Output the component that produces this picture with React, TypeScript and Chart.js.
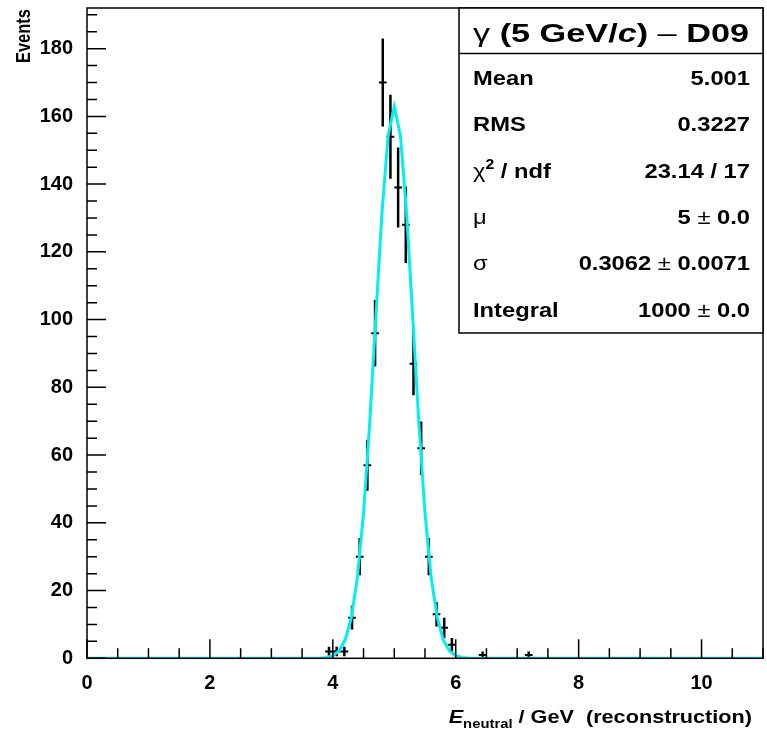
import React, { useEffect, useRef } from "react";
import { Chart, registerables } from "chart.js";

Chart.register(...registerables);

// ---- data ----
const binCenters = [3.9375, 4.0625, 4.1875, 4.3125, 4.4375, 4.5625, 4.6875, 4.8125, 4.9375, 5.0625, 5.1875, 5.3125, 5.4375, 5.5625, 5.6875, 5.8125, 5.9375, 6.4375, 7.1875];
const binCounts = [2, 2, 2, 12, 30, 57, 96, 170, 154, 139, 128, 87, 62, 30, 13, 9, 4, 1, 1];
const binErrors = [1.4, 1.4, 1.4, 3.5, 5.5, 7.5, 9.8, 13.0, 12.4, 11.8, 11.3, 9.3, 7.9, 5.5, 3.6, 3.0, 2.0, 1.0, 1.0];
const BIN_WIDTH = 0.125;

const fitX = [0, 3.6, 3.7, 3.8, 3.9, 4.0, 4.1, 4.2, 4.3, 4.4, 4.5, 4.6, 4.7, 4.8, 4.9, 5.0, 5.1, 5.2, 5.3, 5.4, 5.5, 5.6, 5.7, 5.8, 5.9, 6.0, 6.1, 6.2, 6.3, 6.4, 11];
const fitY = [0, 0.0, 0.02, 0.08, 0.26, 0.79, 2.17, 5.37, 11.9, 23.9, 42.9, 69.4, 100.8, 131.6, 154.4, 162.9, 154.4, 131.6, 100.8, 69.4, 42.9, 23.9, 11.9, 5.37, 2.17, 0.79, 0.26, 0.08, 0.02, 0.0, 0];

const X_MIN = 0;
const X_MAX = 11;
const Y_MIN = 0;
const Y_MAX = 192;
const X_LABEL_STEP = 2;
const X_MINOR_STEP = 0.5;
const Y_LABEL_STEP = 20;
const Y_MINOR_STEP = 5;

const statsTitle = ["γ", " (5 GeV/", "c", ") ", "–", " D09"];
const statsLabels = ["Mean", "RMS", "χ|2| / ndf", "μ", "σ", "Integral"];
const statsValues = ["5.001", "0.3227", "23.14 / 17", "5 ± 0.0", "0.3062 ± 0.0071", "1000 ± 0.0"];
const yTitle = "Events";
const xTitleMain = "E";
const xTitleSub = "neutral";
const xTitleRest = " / GeV  (reconstruction)";

// ---- styling ----
const FONT = '"Liberation Sans", Arial, Helvetica, sans-serif';
const CYAN = "#00F0F0";

type Seg = { t: string; f: string; dy?: number };

function segsWidth(ctx: CanvasRenderingContext2D, segs: Seg[]) {
  let w = 0;
  for (const s of segs) {
    ctx.font = s.f;
    w += ctx.measureText(s.t).width;
  }
  return w;
}

function drawSegs(
  ctx: CanvasRenderingContext2D,
  segs: Seg[],
  x: number,
  y: number,
  align: "left" | "right" | "center",
  stretch: number
) {
  ctx.save();
  ctx.translate(x, y);
  ctx.scale(stretch, 1);
  ctx.textAlign = "left";
  ctx.textBaseline = "alphabetic";
  const w = segsWidth(ctx, segs);
  let cx = align === "left" ? 0 : align === "right" ? -w : -w / 2;
  for (const s of segs) {
    ctx.font = s.f;
    ctx.fillText(s.t, cx, s.dy || 0);
    cx += ctx.measureText(s.t).width;
  }
  ctx.restore();
}

function valueSegs(v: string, size: number): Seg[] {
  const bold = `bold ${size}px ${FONT}`;
  const reg = `${size}px ${FONT}`;
  if (v.includes("±")) {
    const [a, b] = v.split("±");
    return [
      { t: a.trim(), f: bold },
      { t: " ± ", f: reg },
      { t: b.trim(), f: bold },
    ];
  }
  return [{ t: v, f: bold }];
}

function labelSegs(l: string, size: number): Seg[] {
  const bold = `bold ${size}px ${FONT}`;
  const reg = `${size}px ${FONT}`;
  if (l.includes("|")) {
    const [a, sup, b] = l.split("|");
    return [
      { t: a, f: reg },
      { t: sup, f: `bold ${Math.round(size * 0.68)}px ${FONT}`, dy: -size * 0.42 },
      { t: b, f: bold },
    ];
  }
  if (l.length === 1) return [{ t: l, f: reg }];
  return [{ t: l, f: bold }];
}

const rootPlugin = {
  id: "rootStyle",
  beforeDatasetsDraw(chart: any) {
    const { ctx, chartArea: a } = chart;
    const xs = chart.scales.x;
    const ys = chart.scales.y;
    ctx.save();
    ctx.beginPath();
    ctx.rect(a.left, a.top, a.right - a.left, a.bottom - a.top);
    ctx.clip();
    ctx.strokeStyle = "#000";
    ctx.lineWidth = 2.5;
    binCenters.forEach((c, i) => {
      const px = xs.getPixelForValue(c);
      ctx.beginPath();
      ctx.moveTo(px, ys.getPixelForValue(binCounts[i] - binErrors[i]));
      ctx.lineTo(px, ys.getPixelForValue(binCounts[i] + binErrors[i]));
      ctx.stroke();
    });
    ctx.restore();
  },
  afterDatasetsDraw(chart: any) {
    const { ctx, chartArea: a } = chart;
    const xs = chart.scales.x;
    const ys = chart.scales.y;
    ctx.save();
    ctx.strokeStyle = "#000";
    ctx.fillStyle = "#000";

    // ticks (inside the frame)
    ctx.lineWidth = 1.5;
    ctx.beginPath();
    for (let v = X_MIN; v <= X_MAX + 1e-9; v += X_MINOR_STEP) {
      const px = xs.getPixelForValue(v);
      const major = Math.abs(v / X_LABEL_STEP - Math.round(v / X_LABEL_STEP)) < 1e-6;
      const len = major ? 19 : 10;
      ctx.moveTo(px, a.bottom);
      ctx.lineTo(px, a.bottom - len);
    }
    for (let v = Y_MIN; v <= Y_MAX + 1e-9; v += Y_MINOR_STEP) {
      const py = ys.getPixelForValue(v);
      const major = Math.abs(v / Y_LABEL_STEP - Math.round(v / Y_LABEL_STEP)) < 1e-6;
      const len = major ? 19 : 10;
      ctx.moveTo(a.left, py);
      ctx.lineTo(a.left + len, py);
    }
    ctx.stroke();

    // frame
    ctx.lineWidth = 1.5;
    ctx.strokeRect(a.left, a.top, a.right - a.left, a.bottom - a.top);

    // stats box
    const bx0 = 459;
    const bx1 = a.right;
    const by0 = a.top;
    const by1 = 333;
    ctx.fillStyle = "#fff";
    ctx.fillRect(bx0, by0, bx1 - bx0, by1 - by0);
    ctx.strokeStyle = "#000";
    ctx.lineWidth = 1.5;
    ctx.strokeRect(bx0, by0, bx1 - bx0, by1 - by0);
    ctx.beginPath();
    ctx.moveTo(bx0, 53.5);
    ctx.lineTo(bx1, 53.5);
    ctx.stroke();
    ctx.fillStyle = "#000";

    const ts = 26;
    const titleSegs: Seg[] = [
      { t: statsTitle[0], f: `${ts}px ${FONT}` },
      { t: statsTitle[1], f: `bold ${ts}px ${FONT}` },
      { t: statsTitle[2], f: `italic bold ${ts}px ${FONT}` },
      { t: statsTitle[3], f: `bold ${ts}px ${FONT}` },
      { t: statsTitle[4], f: `${ts}px ${FONT}` },
      { t: statsTitle[5], f: `bold ${ts}px ${FONT}` },
    ];
    const tw = segsWidth(ctx, titleSegs);
    const tStretch = 276 / tw;
    drawSegs(ctx, titleSegs, (bx0 + bx1) / 2, 41.5, "center", tStretch);

    const rs = 21;
    const rowStretch = 1.13;
    const row0 = 85;
    const rowStep = 46.3;
    statsLabels.forEach((l, i) => {
      const y = row0 + i * rowStep;
      drawSegs(ctx, labelSegs(l, rs), 473, y, "left", rowStretch);
      drawSegs(ctx, valueSegs(statsValues[i], rs), 750, y, "right", rowStretch);
    });

    // x title
    drawSegs(
      ctx,
      [
        { t: xTitleMain, f: `italic bold 19px ${FONT}` },
        { t: xTitleSub, f: `bold 13px ${FONT}`, dy: 5 },
        { t: xTitleRest, f: `bold 19px ${FONT}` },
      ],
      752,
      723,
      "right",
      1.14
    );

    // y title
    ctx.save();
    ctx.translate(30, a.top + 1);
    ctx.rotate(-Math.PI / 2);
    ctx.scale(0.97, 1.22);
    ctx.font = `bold 17px ${FONT}`;
    ctx.textAlign = "right";
    ctx.textBaseline = "alphabetic";
    ctx.fillText(yTitle, 0, 0);
    ctx.restore();

    ctx.restore();
  },
};

export default function App() {
  const ref = useRef<HTMLCanvasElement>(null);
  useEffect(() => {
    const canvas = ref.current;
    if (!canvas) return;
    const tickFont = { family: FONT, size: 20, weight: "bold" as const };
    const chart = new Chart(canvas, {
      type: "line",
      data: {
        datasets: [
          {
            label: "fit",
            data: fitX.map((x, i) => ({ x, y: fitY[i] })),
            borderColor: CYAN,
            borderWidth: 3,
            pointRadius: 0,
            tension: 0,
            fill: false,
            clip: 0,
            order: 0,
          } as any,
          {
            label: "hist",
            data: binCenters.map((x, i) => ({ x, y: binCounts[i] })),
            showLine: false,
            pointStyle: "line",
            pointRadius: (c: any) => {
              const xs = c.chart.scales.x;
              return (xs.getPixelForValue(BIN_WIDTH) - xs.getPixelForValue(0)) / 2;
            },
            pointBorderColor: "#000",
            pointBackgroundColor: "#000",
            pointBorderWidth: 2,
            order: 1,
          } as any,
        ],
      },
      options: {
        responsive: false,
        animation: false,
        devicePixelRatio: 1,
        events: [],
        layout: { padding: { top: 8, right: 4, left: 0, bottom: 0 } },
        plugins: {
          legend: { display: false },
          tooltip: { enabled: false },
          title: { display: false },
        },
        scales: {
          x: {
            type: "linear",
            min: X_MIN,
            max: X_MAX,
            grid: { display: false, drawTicks: false },
            border: { display: false },
            ticks: {
              stepSize: X_LABEL_STEP,
              includeBounds: false,
              autoSkip: false,
              maxRotation: 0,
              padding: 13,
              color: "#000",
              font: tickFont,
            },
            afterFit: (s: any) => {
              s.height = 71.7;
              s.paddingLeft = 0;
              s.paddingRight = 0;
            },
          },
          y: {
            type: "linear",
            min: Y_MIN,
            max: Y_MAX,
            grid: { display: false, drawTicks: false },
            border: { display: false },
            ticks: {
              stepSize: Y_LABEL_STEP,
              includeBounds: false,
              padding: 14,
              color: "#000",
              font: tickFont,
            },
            afterFit: (s: any) => {
              s.width = 87;
              s.paddingTop = 0;
              s.paddingBottom = 0;
            },
          },
        },
      } as any,
      plugins: [rootPlugin],
    });
    return () => chart.destroy();
  }, []);
  return (
    <div style={{ position: "absolute", left: 0, top: 0, width: 767, height: 730, background: "#fff" }}>
      <canvas ref={ref} width={767} height={730} style={{ display: "block", width: 767, height: 730 }} />
    </div>
  );
}
